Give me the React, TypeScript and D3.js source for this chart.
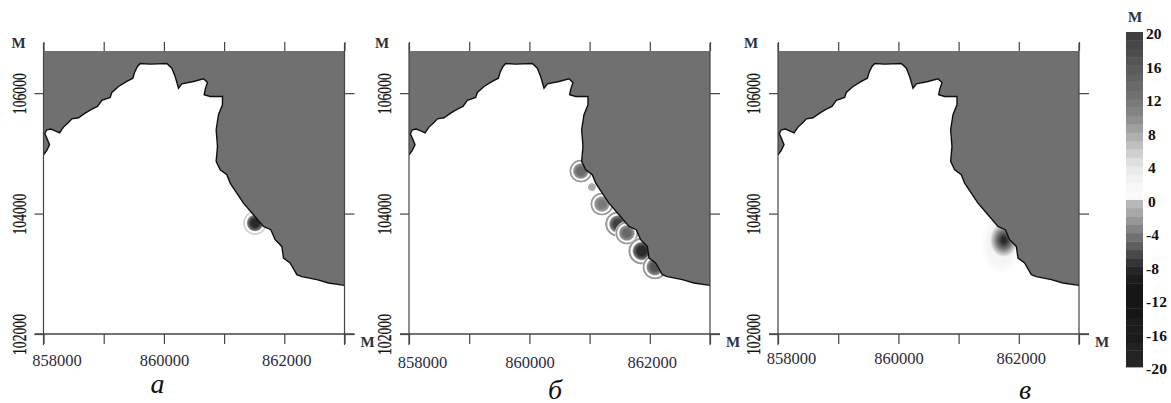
import React, { useEffect, useRef } from 'react'
import * as d3 from 'd3'

// shoreline, metres
const coastX = [858000, 858055, 858100, 858055, 858022, 858055, 858122, 858194, 858266, 858332, 858415, 858471, 858581, 858692, 858803, 858897, 858969, 859107, 859135, 859246, 859384, 859484, 859512, 859561, 859606, 859772, 860049, 860132, 860187, 860243, 860298, 860492, 860658, 860724, 860685, 860669, 860769, 860973, 860973, 860907, 860868, 860890, 860868, 860935, 861045, 861101, 861211, 861322, 861488, 861654, 861776, 861848, 861959, 861987, 862097, 862208, 862291, 862540, 862734, 863000]
const coastY = [104977, 105049, 105143, 105253, 105325, 105392, 105403, 105375, 105342, 105436, 105513, 105574, 105591, 105668, 105735, 105779, 105879, 105928, 106011, 106111, 106194, 106249, 106343, 106443, 106493, 106482, 106493, 106415, 106277, 106083, 106155, 106194, 106238, 106177, 106056, 105973, 105945, 105945, 105807, 105641, 105392, 105115, 104866, 104728, 104645, 104506, 104340, 104174, 103981, 103787, 103732, 103566, 103455, 103262, 103179, 102985, 102952, 102902, 102847, 102808]

// wave sources per panel
const sourceAX = [861514]
const sourceAY = [103843]
const sourceAValue = [-8]
const sourceBX = [860855, 861038, 861204, 861469, 861619, 861868, 862084]
const sourceBY = [104706, 104440, 104158, 103826, 103677, 103378, 103112]
const sourceBValue = [-5, -1.5, -4, -7, -5, -8, -6]
const sourceBRadius = [195, 100, 195, 215, 195, 230, 210]
const sourceCX = [861735]
const sourceCY = [103560]

const xTicks = [858000, 859000, 860000, 861000, 862000, 863000]
const yTicks = [102000, 104000, 106000]
const legendTicks = [20, 16, 12, 8, 4, 0, -4, -8, -12, -16, -20]
const panelNames = ['а', 'б', 'в']

const legendStops = [-20, -12, -10, -8, -6, -4, -2, -0.01, 0, 2, 4, 6, 8, 10, 12, 16, 20]
const legendColors = ['#262626', '#161616', '#161616', '#2a2a2a', '#555', '#7a7a7a', '#a0a0a0', '#c0c0c0', '#fbfbfb', '#f5f5f5', '#e6e6e6', '#c8c8c8', '#a8a8a8', '#888', '#757575', '#585858', '#3c3c3c']

const color = d3.scaleLinear<string>().domain(legendStops).range(legendColors)

const W = 301
const H = 283
const serif = '"Liberation Serif", serif'
const nameX = [114, 146, 247]
const nameBase = [342, 348, 348]
const labelDy = [0, 2, -2]

function drawPanel(svg: any, left: number, idx: number) {
	const top = 51
	const x = d3.scaleLinear().domain([858000, 863000]).range([0, W])
	const y = d3.scaleLinear().domain([102000, 106700]).range([H, 0])
	const g = svg.append('g').attr('transform', `translate(${left},${top})`)
	const pts: [number, number][] = coastX.map((d, i) => [x(d), y(coastY[i])])
	const line = d3.line()

	const defs = svg.select('defs')
	const clipId = `clip${idx}`
	defs.append('clipPath').attr('id', clipId).append('rect').attr('width', W).attr('height', H)

	const map = g.append('g').attr('clip-path', `url(#${clipId})`).attr('filter', 'url(#soft)')

	const drawSource = (sx: number, sy: number, v: number, r: number, ring: string, id: string) => {
		const grad = defs.append('radialGradient').attr('id', id)
		const stops: [number, string][] = [
			[0, color(v)],
			[0.32, color(v)],
			[0.6, color(v * 0.55)],
			[0.7, '#fff'],
			[0.77, '#fff'],
			[0.86, ring],
			[0.94, ring],
			[1, '#fff'],
		]
		stops.forEach(([o, c]) => grad.append('stop').attr('offset', o).attr('stop-color', c))
		map.append('circle').attr('cx', x(sx)).attr('cy', y(sy)).attr('r', x(858000 + r)).attr('fill', `url(#${id})`)
	}

	if (idx === 0) {
		sourceAX.forEach((d, i) => drawSource(d, sourceAY[i], sourceAValue[i], 205, '#d4d4d4', `a${i}`))
	}
	if (idx === 1) {
		sourceBX.forEach((d, i) => drawSource(d, sourceBY[i], sourceBValue[i], sourceBRadius[i], i === 1 ? '#f4f4f4' : '#999', `b${i}`))
	}
	if (idx === 2) {
		const halo = defs.append('radialGradient').attr('id', 'halo')
		halo.append('stop').attr('offset', 0.65).attr('stop-color', '#f4f4f4')
		halo.append('stop').attr('offset', 1).attr('stop-color', '#fff')
		const dark = defs.append('radialGradient').attr('id', 'dark')
		dark.append('stop').attr('offset', 0.15).attr('stop-color', color(-8))
		dark.append('stop').attr('offset', 0.5).attr('stop-color', color(-4.5))
		dark.append('stop').attr('offset', 1).attr('stop-color', '#f4f4f4')
		sourceCX.forEach((d, i) => {
			map.append('ellipse').attr('cx', x(d) - 2).attr('cy', y(sourceCY[i]) + 4).attr('rx', 20).attr('ry', 30).attr('fill', 'url(#halo)')
			map.append('ellipse').attr('cx', x(d) + 1).attr('cy', y(sourceCY[i])).attr('rx', 14).attr('ry', 17).attr('fill', 'url(#dark)')
		})
	}

	// land on top of the field
	const land: [number, number][] = [...pts, [W, 0], [0, 0]]
	map.append('path').attr('d', line(land) + 'Z').attr('fill', '#707070')
	map.append('path').attr('d', line(pts)).attr('fill', 'none').attr('stroke', '#111').attr('stroke-width', 1.4)

	// frame
	const stroke = '#444'
	g.append('line').attr('x1', 0).attr('x2', 0).attr('y1', -8).attr('y2', H + 11).attr('stroke', stroke).attr('stroke-width', 1.2)
	g.append('line').attr('x1', W).attr('x2', W).attr('y1', -8).attr('y2', H + 11).attr('stroke', stroke).attr('stroke-width', 1.2)

	const xAxis = g.append('g').attr('transform', `translate(0,${H})`).call(
		d3.axisBottom(x).tickValues(xTicks).tickSize(10).tickFormat((d: any) => (d % 2000 === 0 && d < 863000 ? String(d) : '')),
	)
	xAxis.select('.domain').remove()
	xAxis.selectAll('line').attr('stroke', stroke).attr('stroke-width', 1.2)
	xAxis.selectAll('text')
		.attr('x', (d: any) => (d === 858000 ? 13 : d === 862000 ? 2 : 0))
		.attr('y', 20 + labelDy[idx]).attr('dy', '0.71em')
		.attr('font-family', serif).attr('font-size', 16.5).attr('fill', '#2b2b3a')

	const topAxis = g.append('g').call(d3.axisTop(x).tickValues(xTicks).tickSize(9).tickFormat(() => ''))
	topAxis.select('.domain').remove()
	topAxis.selectAll('line').attr('stroke', stroke).attr('stroke-width', 1.2)

	const yAxis = g.append('g').call(
		d3.axisLeft(y).tickValues(yTicks).tickSize(9).tickFormat((d: any) => String(d)),
	)
	yAxis.select('.domain').remove()
	yAxis.selectAll('line').attr('stroke', stroke).attr('stroke-width', 1.2)
	yAxis.selectAll('text')
		.attr('x', 0).attr('y', 0).attr('dy', 0)
		.attr('text-anchor', 'middle')
		.attr('transform', 'translate(-18,0) rotate(-90)')
		.attr('font-family', serif).attr('font-size', 18).attr('fill', '#111')
		.attr('stroke', '#111').attr('stroke-width', 0.3)
		.attr('textLength', 41).attr('lengthAdjust', 'spacingAndGlyphs')

	const rightAxis = g.append('g').attr('transform', `translate(${W},0)`).call(
		d3.axisRight(y).tickValues(yTicks).tickSize(10).tickFormat(() => ''),
	)
	rightAxis.select('.domain').remove()
	rightAxis.selectAll('line').attr('stroke', stroke).attr('stroke-width', 1.2)

	// bottom baseline runs past both frame lines
	g.append('line').attr('x1', -9).attr('x2', W + 10).attr('y1', H).attr('y2', H).attr('stroke', stroke).attr('stroke-width', 1.4)

	const unit = (ux: number, uy: number) =>
		g.append('text').attr('x', ux).attr('y', uy).attr('font-family', serif).attr('font-size', 15).attr('font-weight', 700).attr('fill', '#2b3140').attr('text-anchor', 'middle').text('М')
	unit(idx === 0 ? -25 : -27, -3)
	unit(W + 23, H + 13)

	g.append('text').attr('x', nameX[idx]).attr('y', nameBase[idx]).attr('font-family', serif).attr('font-style', 'italic').attr('font-size', 28).attr('fill', '#111').attr('text-anchor', 'middle').text(panelNames[idx])
}

function drawLegend(svg: any) {
	const y = d3.scaleLinear().domain([-20, 20]).range([367, 32])
	const g = svg.append('g').attr('transform', 'translate(1126,0)')
	const bands = d3.range(-20, 20)
	g.append('g').attr('filter', 'url(#soft)').selectAll('rect').data(bands).join('rect')
		.attr('x', 0).attr('width', 17)
		.attr('y', (d: number) => y(d + 1))
		.attr('height', (d: number) => y(d) - y(d + 1) + 0.4)
		.attr('fill', (d: number) => color(d + 0.5))
	const axis = g.append('g').attr('transform', 'translate(17,2)').call(
		d3.axisRight(y).tickValues(legendTicks).tickSize(0).tickFormat((d: any) => String(d)),
	)
	axis.select('.domain').remove()
	axis.selectAll('text')
		.attr('x', (d: any) => (d === 4 || d === 8 || d === 0 ? 5 : 3))
		.attr('font-family', serif).attr('font-size', 15.5).attr('font-weight', 700).attr('fill', '#111')
	axis.selectAll('text').filter((d: any) => d <= -12).attr('textLength', 21).attr('lengthAdjust', 'spacing')
	g.append('text').attr('x', 9).attr('y', 22).attr('font-family', serif).attr('font-size', 15).attr('font-weight', 700).attr('fill', '#2b3140').attr('text-anchor', 'middle').text('М')
}

export default function App() {
	const svgRef = useRef<SVGSVGElement>(null)

	useEffect(() => {
		const svg = d3.select(svgRef.current)
		svg.selectAll('*').remove()
		const defs = svg.append('defs')
		defs.append('filter').attr('id', 'soft').append('feGaussianBlur').attr('stdDeviation', 0.45)
		;[43.5, 409, 778].forEach((left, i) => drawPanel(svg, left, i))
		drawLegend(svg)
	}, [])

	return <svg ref={svgRef} width={1171} height={403} style={{ position: 'absolute', left: 0, top: 0, background: '#fff' }} />
}
